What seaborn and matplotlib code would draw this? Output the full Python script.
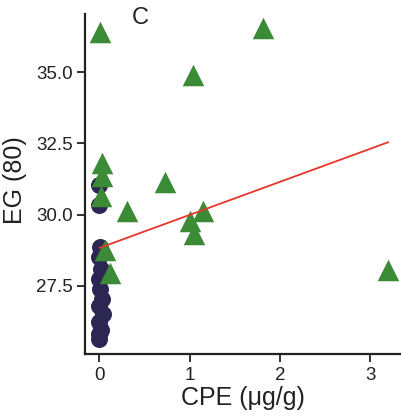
import matplotlib
matplotlib.use("Agg")
import matplotlib.pyplot as plt
import numpy as np
import pandas as pd
import seaborn as sns

sns.set_style("ticks")
plt.rcParams["font.family"] = ["Liberation Sans", "DejaVu Sans"]

# Unexposed group (CPE ~ 0)
ctrl_cpe = [0.00, 0.00, 0.01, 0.00, 0.02, 0.00, 0.01, 0.03, 0.00, 0.04, 0.00, 0.02, 0.00, 0.00]
ctrl_eg = [31.05, 30.35, 28.87, 28.52, 28.10, 27.75, 27.40, 27.05, 26.80, 26.52, 26.24, 25.96, 25.80, 25.65]

# Exposed group
exp_cpe = [0.01, 1.81, 1.04, 0.03, 0.03, 0.02, 0.73, 0.31, 1.00, 1.05, 1.15, 0.06, 0.12, 3.20]
exp_eg = [36.40, 36.55, 34.90, 31.80, 31.35, 30.65, 31.14, 30.13, 29.78, 29.32, 30.13, 28.76, 27.95, 28.05]

# Linear fit across both groups
fit_range = [0.0, 3.2]
fit_intercept = 28.83
fit_slope = 1.16

ctrl = pd.DataFrame({"CPE": ctrl_cpe, "EG": ctrl_eg})
expo = pd.DataFrame({"CPE": exp_cpe, "EG": exp_eg})
fit = pd.DataFrame({"CPE": fit_range})
fit["EG"] = fit_intercept + fit_slope * fit["CPE"]

fig = plt.figure(figsize=(4.02, 4.20), dpi=100)
ax = fig.add_axes([85 / 402, 66 / 420, 315 / 402, 340 / 420])

sns.scatterplot(data=ctrl, x="CPE", y="EG", ax=ax, color="#2c2652",
                marker="o", s=150, linewidth=0, zorder=2)
sns.scatterplot(data=expo, x="CPE", y="EG", ax=ax, color="#3b8a35",
                marker="^", s=240, linewidth=0, zorder=3)
sns.lineplot(data=fit, x="CPE", y="EG", ax=ax, color="#e8352b",
             linewidth=1.3, zorder=4)

ax.set_xlim(-0.158, 3.33)
ax.set_ylim(25.11, 37.04)
ax.set_xticks([0, 1, 2, 3])
ax.set_yticks([27.5, 30.0, 32.5, 35.0])
ax.set_yticklabels(["27.5", "30.0", "32.5", "35.0"])

for side in ("top", "right"):
    ax.spines[side].set_visible(False)
for side in ("left", "bottom"):
    ax.spines[side].set_linewidth(1.6)
    ax.spines[side].set_color("#222222")

ax.tick_params(axis="both", direction="out", length=6, width=1.3,
               color="#222222", labelsize=13.5, labelcolor="#222222", pad=3)

ax.set_xlabel("CPE (μg/g)", fontsize=18, color="#222222", labelpad=2)
ax.set_ylabel("EG (80)", fontsize=18, color="#222222")
ax.yaxis.set_label_coords(-0.184, 0.512)

fig.text(140 / 402, 1 - 18 / 420, "C", fontsize=17, color="#222222",
         ha="center", va="center")

fig.savefig("out.png", dpi=100)
